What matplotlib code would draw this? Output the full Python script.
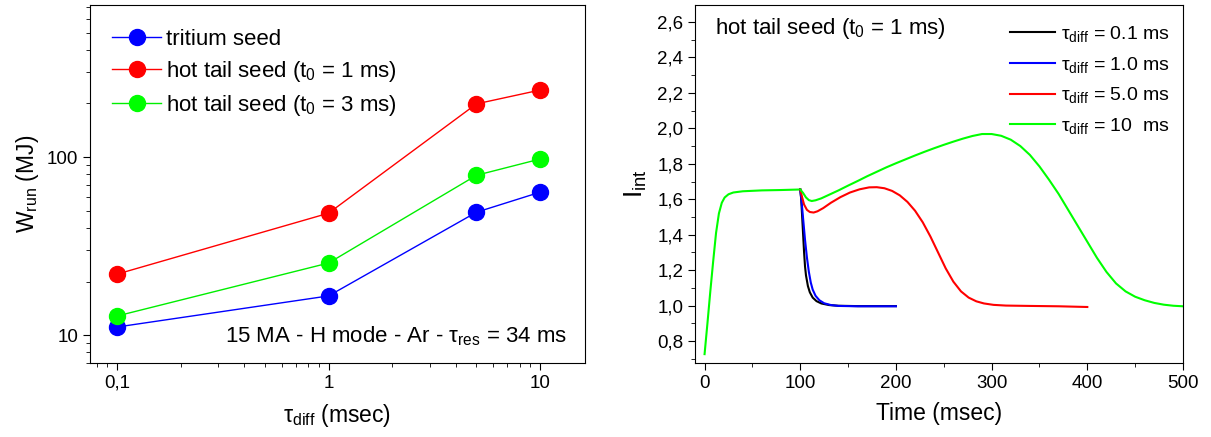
import matplotlib
matplotlib.use("Agg")
import matplotlib.pyplot as plt
from matplotlib.ticker import FixedLocator, FuncFormatter, MultipleLocator, LogLocator, NullFormatter

plt.rcParams['font.family'] = ['Liberation Sans', 'DejaVu Sans']
plt.rcParams['mathtext.fontset'] = 'custom'
plt.rcParams['mathtext.rm'] = 'Liberation Sans'
plt.rcParams['mathtext.it'] = 'Liberation Sans:italic'

# ---------------- data: left panel ----------------
tau_diff = [0.1, 1, 5, 10]
w_tritium = [11.1, 16.6, 49, 63.5]
w_hot_t1 = [22, 48.4, 199, 238]
w_hot_t3 = [12.8, 25.4, 79, 97.5]
left_labels = ['tritium seed', r'hot tail seed (t$_0$ = 1 ms)', r'hot tail seed (t$_0$ = 3 ms)']

# ---------------- data: right panel ----------------
t_common = [0, 3, 6, 9, 12, 15, 18, 21, 25, 30, 40, 60, 80, 100]
i_common = [0.726, 0.9, 1.08, 1.25, 1.41, 1.52, 1.58, 1.61, 1.628, 1.638, 1.645, 1.65, 1.652, 1.655]

t_01 = [100, 101, 102, 103, 104, 105, 106, 108, 110, 113, 117, 122, 130, 140, 160, 200]
i_01 = [1.655, 1.6, 1.5, 1.4, 1.3, 1.22, 1.17, 1.11, 1.075, 1.045, 1.025, 1.012, 1.003, 0.999,
        0.997, 0.997]

t_10 = [100, 101.5, 103, 105, 107, 109, 111, 113, 116, 120, 125, 132, 140, 160, 200]
i_10 = [1.655, 1.58, 1.49, 1.37, 1.27, 1.19, 1.13, 1.09, 1.055, 1.03, 1.013, 1.003, 0.998,
        0.996, 0.996]

t_50 = [100, 102, 104, 107, 110, 114, 118, 124, 132, 142, 152, 162, 172, 180, 188, 196, 204,
        212, 220, 228, 236, 244, 252, 260, 268, 276, 284, 292, 302, 315, 340, 370, 400]
i_50 = [1.655, 1.61, 1.57, 1.54, 1.528, 1.525, 1.532, 1.55, 1.58, 1.612, 1.638, 1.656, 1.667,
        1.668, 1.662, 1.647, 1.622, 1.585, 1.535, 1.47, 1.39, 1.30, 1.21, 1.135, 1.08, 1.045,
        1.024, 1.012, 1.004, 1.0, 0.998, 0.996, 0.992]

t_100 = [100, 103, 106, 109, 112, 116, 122, 130, 140, 150, 160, 170, 180, 190, 200, 210, 220,
         230, 240, 250, 260, 270, 280, 290, 300, 310, 320, 330, 340, 350, 360, 370, 380, 390,
         400, 410, 420, 430, 440, 450, 460, 470, 480, 490, 500]
i_100 = [1.655, 1.635, 1.61, 1.595, 1.59, 1.594, 1.605, 1.625, 1.65, 1.677, 1.703, 1.73, 1.755,
         1.78, 1.803, 1.825, 1.847, 1.868, 1.888, 1.907, 1.925, 1.942, 1.957, 1.968, 1.968,
         1.958, 1.936, 1.9, 1.85, 1.785, 1.71, 1.63, 1.54, 1.45, 1.36, 1.27, 1.19, 1.125, 1.08,
         1.05, 1.03, 1.015, 1.005, 0.999, 0.996]

right_labels = [r'τ$_{\rm diff}$ = 0.1 ms', r'τ$_{\rm diff}$ = 1.0 ms',
                r'τ$_{\rm diff}$ = 5.0 ms', r'τ$_{\rm diff}$ = 10  ms']

fig = plt.figure(figsize=(12.11, 4.37), dpi=100)

# ---------------- left panel ----------------
ax1 = fig.add_axes([90/1211, 74/437, 495/1211, 358/437])
ms = 11.5
ax1.plot(tau_diff, w_tritium, '-o', color='#0000ff', mfc='#0000ff', mec='#0000ff', lw=1, ms=ms, label=left_labels[0])
ax1.plot(tau_diff, w_hot_t1, '-o', color='#ff0000', mfc='#ff0000', mec='#ff0000', lw=1, ms=ms, label=left_labels[1])
ax1.plot(tau_diff, w_hot_t3, '-o', color='#00ee00', mfc='#00ff00', mec='#00ff00', lw=1, ms=ms, label=left_labels[2])
ax1.set_xscale('log')
ax1.set_yscale('log')
ax1.set_xlim(0.0745, 16.3)
ax1.set_ylim(6.97, 715)
ax1.xaxis.set_major_locator(FixedLocator([0.1, 1, 10]))
ax1.xaxis.set_major_formatter(FuncFormatter(lambda v, p: {0.1: '0,1', 1: '1', 10: '10'}.get(round(v, 3), '')))
ax1.xaxis.set_minor_locator(LogLocator(base=10, subs=range(2, 10)))
ax1.xaxis.set_minor_formatter(NullFormatter())
ax1.yaxis.set_major_locator(FixedLocator([10, 100]))
ax1.yaxis.set_major_formatter(FuncFormatter(lambda v, p: '%d' % round(v)))
ax1.yaxis.set_minor_locator(LogLocator(base=10, subs=range(2, 10)))
ax1.yaxis.set_minor_formatter(NullFormatter())
ax1.tick_params(which='both', direction='out', top=False, right=False, labelsize=13.5)
ax1.tick_params(which='major', length=5)
ax1.tick_params(which='minor', length=3)
ax1.set_xlabel(r'τ$_{\rm diff}$ (msec)', fontsize=16.5, labelpad=7)
ax1.set_ylabel(r'W$_{\rm run}$ (MJ)', fontsize=16.5, labelpad=4)
ax1.legend(loc='upper left', frameon=False, fontsize=16, handlelength=2.2, handletextpad=0.2,
           labelspacing=0.4, borderaxespad=0.6, bbox_to_anchor=(0.0, 0.995))
ax1.text(0.965, 0.075, r'15 MA - H mode - Ar - τ$_{\rm res}$ = 34 ms', transform=ax1.transAxes,
         ha='right', va='center', fontsize=16)

# ---------------- right panel ----------------
ax2 = fig.add_axes([695/1211, 74/437, 488/1211, 358/437])
ax2.plot(t_common, i_common, color='#00ff00', lw=1.5)
ax2.plot(t_01, i_01, color='black', lw=1.5, label=right_labels[0])
ax2.plot(t_10, i_10, color='#0000ff', lw=1.5, label=right_labels[1])
ax2.plot(t_50, i_50, color='#ff0000', lw=1.5, label=right_labels[2])
ax2.plot(t_100, i_100, color='#00ff00', lw=1.5, label=right_labels[3])
ax2.set_xlim(-10, 500)
ax2.set_ylim(0.676, 2.696)
ax2.xaxis.set_major_locator(MultipleLocator(100))
ax2.xaxis.set_minor_locator(MultipleLocator(50))
ax2.yaxis.set_major_locator(MultipleLocator(0.2))
ax2.yaxis.set_minor_locator(MultipleLocator(0.1))
ax2.yaxis.set_major_formatter(FuncFormatter(lambda v, p: ('%.1f' % v).replace('.', ',')))
ax2.tick_params(which='both', direction='out', top=False, right=False, labelsize=13.5)
ax2.tick_params(which='major', length=5)
ax2.tick_params(which='minor', length=3)
ax2.set_xlabel('Time (msec)', fontsize=16.5, labelpad=7)
ax2.set_ylabel(r'I$_{\rm int}$', fontsize=19, labelpad=6)
ax2.legend(loc='upper right', frameon=False, fontsize=14, handlelength=2.3, handletextpad=0.3,
           labelspacing=0.55, borderaxespad=0.3, bbox_to_anchor=(1.0, 0.985))
ax2.text(0.04, 0.935, r'hot tail seed (t$_0$ = 1 ms)', transform=ax2.transAxes,
         ha='left', va='center', fontsize=16)

fig.savefig('out.png', dpi=100)
